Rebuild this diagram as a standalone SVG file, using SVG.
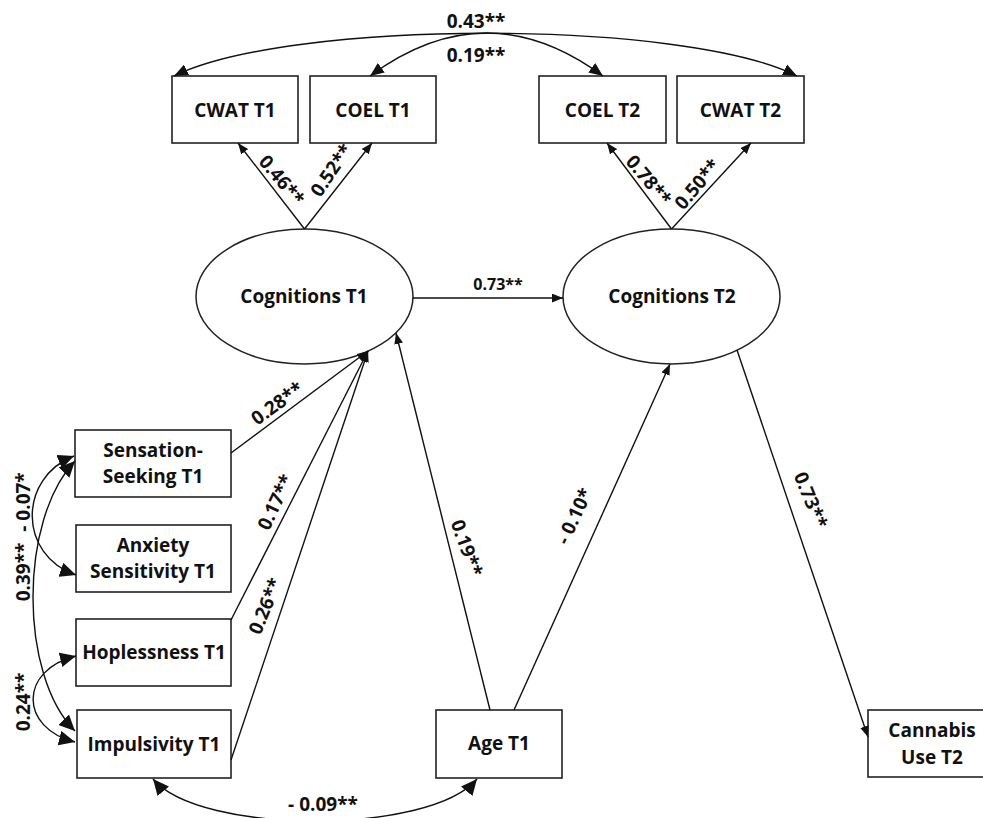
<svg xmlns="http://www.w3.org/2000/svg" width="983" height="818" viewBox="0 0 983 818">
<style>
  .box { fill: #fff; stroke: #222; stroke-width: 1.6; }
  .ell { fill: #fff; stroke: #222; stroke-width: 1.5; }
  .nt { font-family: "Open Sans", "Liberation Sans", sans-serif; font-weight: bold; font-size: 19px; fill: #111; text-anchor: middle; }
  .lb { font-family: "Open Sans", "Liberation Sans", sans-serif; font-weight: bold; font-size: 19px; fill: #111; text-anchor: middle; dominant-baseline: central; }
  .ln { fill: none; stroke: #111; stroke-width: 1.4; }
  .pa { marker-end: url(#arr); }
  .cv { marker-start: url(#big); marker-end: url(#big); }
  .cvs { marker-start: url(#mid); marker-end: url(#mid); }
</style>
<defs>
  <marker id="arr" viewBox="0 0 10 8" refX="10" refY="4" markerWidth="11" markerHeight="9" markerUnits="userSpaceOnUse" orient="auto-start-reverse">
    <path d="M0,0 L10,4 L0,8 z" fill="#111"/>
  </marker>
  <marker id="mid" viewBox="0 0 12 10" refX="12" refY="5" markerWidth="14" markerHeight="12" markerUnits="userSpaceOnUse" orient="auto-start-reverse">
    <path d="M0,0 L12,5 L0,10 z" fill="#111"/>
  </marker>
  <marker id="big" viewBox="0 0 14 13" refX="14" refY="6.5" markerWidth="16" markerHeight="15" markerUnits="userSpaceOnUse" orient="auto-start-reverse">
    <path d="M0,0 L14,6.5 L0,13 z" fill="#111"/>
  </marker>
</defs>

<g id="cwat-t1"><rect class="box" x="172" y="76" width="126" height="67"/><text class="nt" x="235" y="117">CWAT T1</text></g>
<g id="coel-t1"><rect class="box" x="310" y="76" width="126" height="67"/><text class="nt" x="373" y="117">COEL T1</text></g>
<g id="coel-t2"><rect class="box" x="539" y="76" width="127" height="67"/><text class="nt" x="602.5" y="117">COEL T2</text></g>
<g id="cwat-t2"><rect class="box" x="677" y="76" width="127" height="67"/><text class="nt" x="740.5" y="117">CWAT T2</text></g>

<g id="cognitions-t1"><ellipse class="ell" cx="304.5" cy="296.5" rx="108.5" ry="67.5"/><text class="nt" x="304" y="303">Cognitions T1</text></g>
<g id="cognitions-t2"><ellipse class="ell" cx="671.5" cy="296.5" rx="108.5" ry="67.5"/><text class="nt" x="672" y="303">Cognitions T2</text></g>

<g id="sensation-seeking-t1"><rect class="box" x="75" y="430" width="156" height="67"/><text class="nt" x="153" y="457">Sensation-</text><text class="nt" x="153" y="483">Seeking T1</text></g>
<g id="anxiety-sensitivity-t1"><rect class="box" x="76" y="525" width="155" height="67"/><text class="nt" x="153" y="552">Anxiety</text><text class="nt" x="153" y="578">Sensitivity T1</text></g>
<g id="hoplessness-t1"><rect class="box" x="76" y="619" width="155" height="67"/><text class="nt" x="154" y="659">Hoplessness T1</text></g>
<g id="impulsivity-t1"><rect class="box" x="77" y="710" width="154" height="68"/><text class="nt" x="154" y="751">Impulsivity T1</text></g>
<g id="age-t1"><rect class="box" x="436" y="710" width="126" height="68"/><text class="nt" x="499" y="750">Age T1</text></g>
<g id="cannabis-use-t2"><rect class="box" x="868" y="710" width="130" height="67"/><text class="nt" x="932" y="737">Cannabis</text><text class="nt" x="932" y="764">Use T2</text></g>

<g id="connectors">
  <!-- top covariances -->
  <path class="ln cvs" d="M174,76 C290,19 684,19 797,76"/>
  <path class="ln cvs" d="M370,76 Q486.5,-10 603,76"/>
  <text class="lb" x="476" y="21">0.43**</text>
  <text class="lb" x="476" y="55">0.19**</text>

  <!-- loadings -->
  <path class="ln pa" d="M304.5,229 L238,143"/>
  <path class="ln pa" d="M304.5,229 L372,143"/>
  <path class="ln pa" d="M671.5,229 L607,143"/>
  <path class="ln pa" d="M671.5,229 L751,143"/>
  <text class="lb" transform="translate(282,180) rotate(50)">0.46**</text>
  <text class="lb" transform="translate(331,170) rotate(-56)">0.52**</text>
  <text class="lb" transform="translate(649,180) rotate(50)">0.78**</text>
  <text class="lb" transform="translate(697,184) rotate(-50)">0.50**</text>

  <!-- structural paths -->
  <path class="ln pa" d="M413,298 L563,298"/>
  <text class="lb" x="498" y="284" style="font-size:16px">0.73**</text>

  <path class="ln pa" d="M231,453 L368,351"/>
  <path class="ln pa" d="M231,620 L368,351"/>
  <path class="ln pa" d="M231,760 L368,351"/>
  <text class="lb" transform="translate(277,403) rotate(-36)">0.28**</text>
  <text class="lb" transform="translate(275,502) rotate(-65)">0.17**</text>
  <text class="lb" transform="translate(265,606) rotate(-68)">0.26**</text>

  <path class="ln pa" d="M490,710 L396,333"/>
  <path class="ln pa" d="M514,710 L670,364"/>
  <path class="ln pa" d="M737,350 L868,737"/>
  <text class="lb" transform="translate(467,548) rotate(70)">0.19**</text>
  <text class="lb" transform="translate(574,516) rotate(-65)">- 0.10*</text>
  <text class="lb" transform="translate(811,500) rotate(68)">0.73**</text>

  <!-- left covariances -->
  <path class="ln cv" d="M74,456 C18,478 18,555 76,575"/>
  <path class="ln cv" d="M75,461 C19,520 19,675 75,731"/>
  <path class="ln cv" d="M76,656 C19,670 19,728 75,742"/>
  <text class="lb" transform="translate(23,502) rotate(-90)">- 0.07*</text>
  <text class="lb" transform="translate(23,572) rotate(-90)">0.39**</text>
  <text class="lb" transform="translate(23,702) rotate(-90)">0.24**</text>

  <!-- bottom covariance -->
  <path class="ln cv" d="M153,779 C200,835 430,835 477,779"/>
  <text class="lb" x="323" y="804">- 0.09**</text>
</g>
</svg>
